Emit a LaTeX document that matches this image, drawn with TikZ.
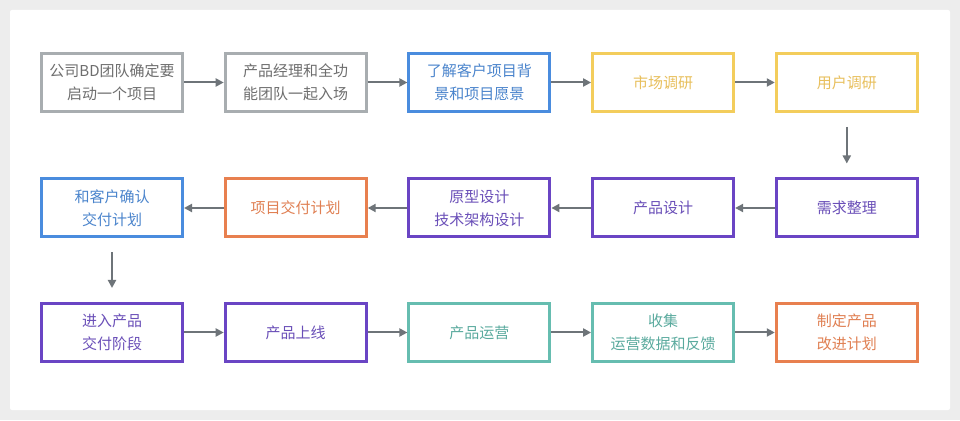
\documentclass[tikz,border=0pt]{standalone}
\usepackage{fontspec}
\setmainfont{Noto Sans CJK SC}
\usetikzlibrary{arrows.meta}
\definecolor{bggray}{HTML}{EDEDED}
\definecolor{cgray}{HTML}{A8ADB0}
\definecolor{tgray}{HTML}{6E6E6E}
\definecolor{cblue}{HTML}{4A8CDE}
\definecolor{tblue}{HTML}{4A84CC}
\definecolor{cyellow}{HTML}{F3CD5C}
\definecolor{tyellow}{HTML}{E8BF5C}
\definecolor{cpurple}{HTML}{6A45C4}
\definecolor{tpurple}{HTML}{6A4FB8}
\definecolor{corange}{HTML}{E8804F}
\definecolor{torange}{HTML}{E07F52}
\definecolor{cteal}{HTML}{66BDB0}
\definecolor{tteal}{HTML}{5AAA9E}
\definecolor{arrowc}{HTML}{6E7479}
\tikzset{
  box/.style={draw, line width=3pt, minimum width=141pt, minimum height=58pt,
    inner sep=0pt, align=center, font=\fontsize{15}{23}\selectfont, fill=white},
  graybox/.style={box, draw=cgray, text=tgray},
  bluebox/.style={box, draw=cblue, text=tblue},
  yellowbox/.style={box, draw=cyellow, text=tyellow},
  purplebox/.style={box, draw=cpurple, text=tpurple},
  orangebox/.style={box, draw=corange, text=torange},
  tealbox/.style={box, draw=cteal, text=tteal},
  flow/.style={draw=arrowc, line width=2pt, -{Triangle[length=8pt,width=8pt]}},
  vflow/.style={flow, shorten <=14pt, shorten >=14pt}
}
\begin{document}
\begin{tikzpicture}[x=1pt,y=1pt]
\fill[bggray] (0,0) rectangle (960,420);
\fill[white, rounded corners=2pt] (10,10) rectangle (950,410);
\useasboundingbox (0,0) rectangle (960,420);
% row 1
\node[graybox]   (a1) at (112,337.5)   {公司BD团队确定要\\启动一个项目};
\node[graybox]   (a2) at (295.7,337.5) {产品经理和全功\\能团队一起入场};
\node[bluebox]   (a3) at (479.4,337.5) {了解客户项目背\\景和项目愿景};
\node[yellowbox] (a4) at (663.1,337.5) {市场调研};
\node[yellowbox] (a5) at (846.8,337.5) {用户调研};
% row 2
\node[purplebox] (b5) at (846.8,212)   {需求整理};
\node[purplebox] (b4) at (663.1,212)   {产品设计};
\node[purplebox] (b3) at (479.4,212)   {原型设计\\技术架构设计};
\node[orangebox] (b2) at (295.7,212)   {项目交付计划};
\node[bluebox]   (b1) at (112,212)     {和客户确认\\交付计划};
% row 3
\node[purplebox] (c1) at (112,87.5)    {进入产品\\交付阶段};
\node[purplebox] (c2) at (295.7,87.5)  {产品上线};
\node[tealbox]   (c3) at (479.4,87.5)  {产品运营};
\node[tealbox]   (c4) at (663.1,87.5)  {收集\\运营数据和反馈};
\node[orangebox] (c5) at (846.8,87.5)  {制定产品\\改进计划};
% arrows
\draw[flow] (a1) -- (a2);
\draw[flow] (a2) -- (a3);
\draw[flow] (a3) -- (a4);
\draw[flow] (a4) -- (a5);
\draw[vflow] (a5) -- (b5);
\draw[flow] (b5) -- (b4);
\draw[flow] (b4) -- (b3);
\draw[flow] (b3) -- (b2);
\draw[flow] (b2) -- (b1);
\draw[vflow] (b1) -- (c1);
\draw[flow] (c1) -- (c2);
\draw[flow] (c2) -- (c3);
\draw[flow] (c3) -- (c4);
\draw[flow] (c4) -- (c5);
\end{tikzpicture}
\end{document}
